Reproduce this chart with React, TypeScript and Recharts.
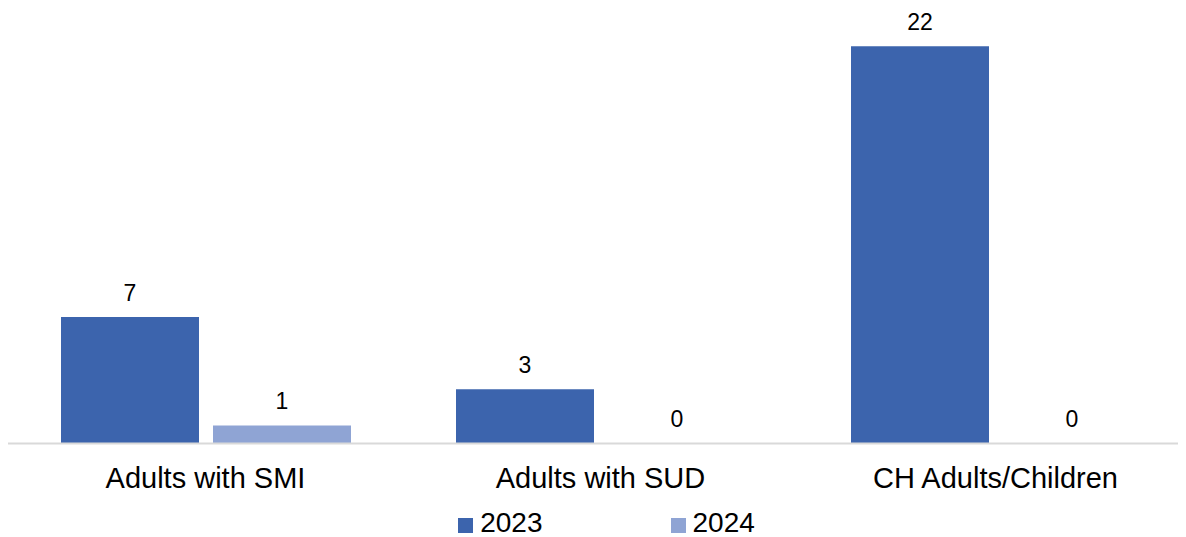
import { BarChart, Bar, XAxis, YAxis, Legend, LabelList } from 'recharts'

const categories = ['Adults with SMI', 'Adults with SUD', 'CH Adults/Children']
const values2023 = [7, 3, 22]
const values2024 = [1, 0, 0]

const COLOR_2023 = '#3c64ad'
const COLOR_2024 = '#8fa4d4'
const FONT = 'Arial, "Liberation Sans", sans-serif'

const data = categories.map((cat, i) => ({ cat, y2023: values2023[i], y2024: values2024[i] }))

// draws the value above each bar, including zero-height bars
function ValueLabel(props: any) {
  const { x, y, width, value } = props
  if (value === undefined || value === null) return null
  return (
    <text x={Number(x) + Number(width) / 2} y={Number(y) - 16} textAnchor="middle"
      fontSize={23} fill="#000" fontFamily={FONT}>
      {value}
    </text>
  )
}

// tiny min size so zero bars still exist (and get their "0" label)
const zeroMin = (v: any) => (v === 0 ? 0.01 : 0)

function LegendBox() {
  const items = [
    { label: '2023', color: COLOR_2023 },
    { label: '2024', color: COLOR_2024 },
  ]
  return (
    <div style={{ height: 53.5, display: 'flex', justifyContent: 'center', alignItems: 'flex-start', paddingLeft: 12, fontFamily: FONT }}>
      {items.map((it, i) => (
        <div key={it.label} style={{ display: 'flex', alignItems: 'flex-start', marginLeft: i ? 128 : 0, marginTop: 23 }}>
          <span style={{ width: 15, height: 15, background: it.color, display: 'inline-block', marginRight: 7, marginTop: 11.5 }} />
          <span style={{ fontSize: 28, color: '#000', lineHeight: '32px' }}>{it.label}</span>
        </div>
      ))}
    </div>
  )
}

export default function App() {
  return (
    <div style={{ width: 1178, height: 529, overflow: 'hidden' }}>
      <BarChart
        width={1185}
        height={529}
        data={data}
        margin={{ top: 2, right: 0, left: 0, bottom: 0 }}
        barGap={14}
      >
        <XAxis
          dataKey="cat"
          axisLine={{ stroke: '#d9d9d9', strokeWidth: 2 }}
          tickLine={false}
          tickSize={0}
          tickMargin={24}
          height={40}
          interval={0}
          tick={{ fontSize: 29, fill: '#000', fontFamily: FONT }}
        />
        <YAxis hide domain={[0, 24]} />
        <Legend verticalAlign="bottom" content={() => <LegendBox />} />
        <Bar dataKey="y2023" fill={COLOR_2023} barSize={138} minPointSize={zeroMin} isAnimationActive={false}>
          <LabelList dataKey="y2023" content={ValueLabel} />
        </Bar>
        <Bar dataKey="y2024" fill={COLOR_2024} barSize={138} minPointSize={zeroMin} isAnimationActive={false}>
          <LabelList dataKey="y2024" content={ValueLabel} />
        </Bar>
      </BarChart>
    </div>
  )
}
